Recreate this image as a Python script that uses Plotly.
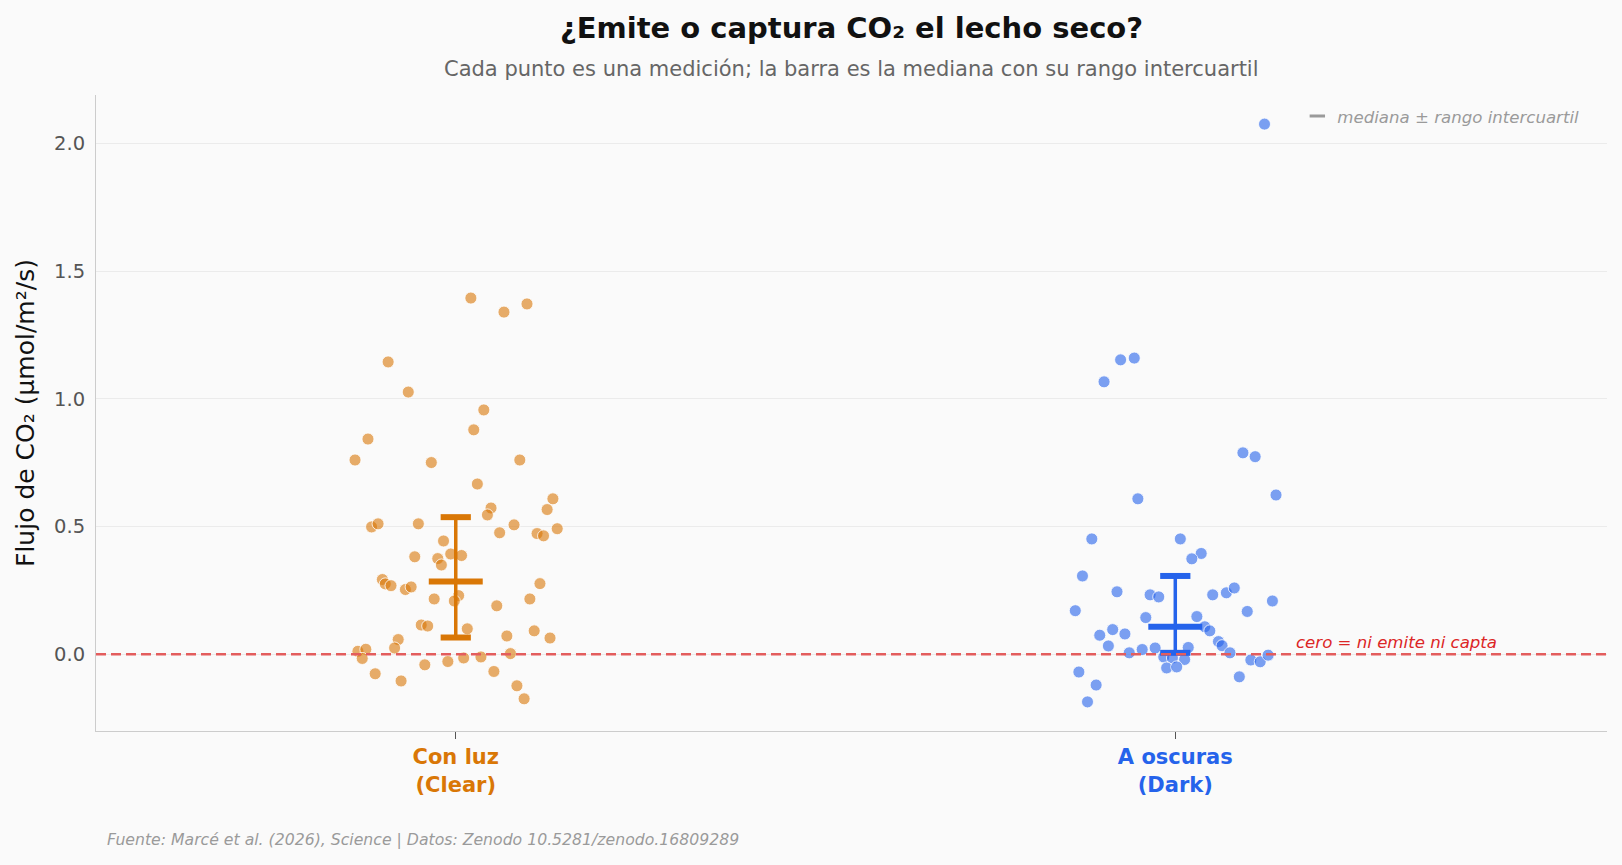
import numpy as np
import plotly.graph_objects as go

# ---------------- data ----------------
categories = ["Con luz<br>(Clear)", "A oscuras<br>(Dark)"]
cat_colors = ["#d97706", "#2563eb"]

clear_values = [1.395, 1.340, 1.372, 1.145, 1.027, 0.957, 0.879, 0.843, 0.761, 0.751,
                0.761, 0.667, 0.609, 0.567, 0.573, 0.546, 0.499, 0.511, 0.511, 0.507,
                0.476, 0.473, 0.464, 0.492, 0.444, 0.382, 0.375, 0.350, 0.393, 0.387,
                0.293, 0.276, 0.269, 0.254, 0.264, 0.277, 0.217, 0.230, 0.209, 0.190,
                0.217, 0.115, 0.111, 0.100, 0.072, 0.092, 0.064, 0.058, 0.025, 0.012,
                0.020, -0.016, 0.003, -0.076, -0.104, -0.041, -0.028, -0.014, -0.010,
                -0.067, -0.123, -0.174]
clear_jitter = [0.021, 0.067, 0.099, -0.094, -0.066, 0.039, 0.025, -0.122, -0.140, -0.034,
                0.089, 0.030, 0.135, 0.127, 0.049, 0.044, -0.117, -0.108, -0.052, 0.081,
                0.061, 0.113, 0.122, 0.141, -0.017, -0.057, -0.025, -0.020, -0.007, 0.008,
                -0.102, -0.098, -0.090, -0.070, -0.062, 0.117, -0.030, 0.004, -0.002, 0.057,
                0.103, -0.048, -0.039, 0.016, 0.071, 0.109, 0.131, -0.080, -0.085, -0.136,
                -0.125, -0.130, 0.076, -0.112, -0.076, -0.043, -0.011, 0.011, 0.035,
                0.053, 0.085, 0.095]

dark_values = [1.153, 1.160, 1.067, 0.789, 0.774, 0.624, 0.609, 0.452, 0.452, 0.395,
               0.374, 0.307, 0.245, 0.233, 0.225, 0.233, 0.241, 0.260, 0.209, 0.171,
               0.168, 0.144, 0.148, 0.075, 0.097, 0.080, 0.033, 0.006, 0.019, 0.025,
               0.108, 0.092, 0.050, 0.034, 0.006, 0.027, -0.010, -0.014, -0.020, -0.053,
               -0.049, -0.022, -0.029, -0.003, -0.069, -0.120, -0.186, -0.088, 2.076]
dark_jitter = [-0.076, -0.057, -0.099, 0.094, 0.111, 0.140, -0.052, -0.116, 0.007, 0.036,
               0.023, -0.129, -0.081, -0.035, -0.023, 0.052, 0.071, 0.082, 0.135, -0.139,
               0.100, -0.041, 0.030, -0.105, -0.087, -0.070, -0.093, -0.064, -0.046, -0.028,
               0.041, 0.048, 0.060, 0.065, 0.076, 0.018, -0.016, -0.004, 0.013, -0.012,
               0.002, 0.105, 0.118, 0.129, -0.134, -0.110, -0.122, 0.089, 0.124]

y_ticks = [0.0, 0.5, 1.0, 1.5, 2.0]

FONT = "DejaVu Sans"
BG = "#fafafa"

groups = [(clear_values, clear_jitter), (dark_values, dark_jitter)]
point_colors = ["rgba(217,119,6,0.6)", "rgba(37,99,235,0.6)"]

fig = go.Figure()

# points
for i, (vals, jit) in enumerate(groups):
    xs = [i + j for j in jit]
    fig.add_trace(go.Scatter(
        x=xs, y=vals, mode="markers", showlegend=False, hoverinfo="y",
        marker=dict(size=12, color=point_colors[i],
                    line=dict(width=1, color="rgba(255,255,255,0.8)")),
    ))

# median +- IQR
cap_w = 0.021
med_w = 0.0375
for i, (vals, _) in enumerate(groups):
    q1, med, q3 = np.percentile(vals, [25, 50, 75])
    col = cat_colors[i]
    fig.add_trace(go.Scatter(x=[i, i], y=[q1, q3], mode="lines", showlegend=False,
                             line=dict(color=col, width=3.5), hoverinfo="skip"))
    fig.add_trace(go.Scatter(x=[i - cap_w, i + cap_w, None, i - cap_w, i + cap_w],
                             y=[q1, q1, None, q3, q3], mode="lines", showlegend=False,
                             line=dict(color=col, width=6), hoverinfo="skip"))
    fig.add_trace(go.Scatter(x=[i - med_w, i + med_w], y=[med, med], mode="lines",
                             showlegend=False, line=dict(color=col, width=6),
                             hoverinfo="skip"))

# legend entry
fig.add_trace(go.Scatter(
    x=[None], y=[None], mode="markers", name="mediana ± rango intercuartil",
    marker=dict(symbol="line-ew", size=11, color="#9a9a9a",
                line=dict(width=3, color="#9a9a9a")),
))

# zero line
fig.add_shape(type="line", xref="paper", x0=0, x1=1, yref="y", y0=0, y1=0,
              line=dict(color="#e35d5d", width=2.5, dash="10px,5px"),
              layer="above")
fig.add_annotation(x=1.45, y=0, xref="x", yref="y", xanchor="right", yanchor="bottom",
                   text="<i>cero = ni emite ni capta</i>", showarrow=False,
                   font=dict(family=FONT, size=16.6, color="#dc2626"))

# subtitle & footer
fig.add_annotation(x=0.5, y=1.041, xref="paper", yref="paper", xanchor="center",
                   yanchor="middle", showarrow=False,
                   text="Cada punto es una medición; la barra es la mediana con su rango intercuartil",
                   font=dict(family=FONT, size=21, color="#666666"))
fig.add_annotation(x=0.006, y=-0.171, xref="paper", yref="paper", xanchor="left",
                   yanchor="middle", showarrow=False,
                   text="<i>Fuente: Marcé et al. (2026), Science | Datos: Zenodo 10.5281/zenodo.16809289</i>",
                   font=dict(family=FONT, size=15.7, color="#9a9a9a"))

ticktext = [f'<span style="color:{c}"><b>{t}</b></span>' for t, c in zip(categories, cat_colors)]

fig.update_layout(
    width=1622, height=865,
    paper_bgcolor=BG, plot_bgcolor=BG,
    margin=dict(l=96, r=15, t=95, b=134),
    title=dict(text="<b>¿Emite o captura CO₂ el lecho seco?</b>", x=0.5, xref="paper",
               xanchor="center", y=1 - 28 / 865, yref="container", yanchor="middle",
               font=dict(family=FONT, size=29, color="#111111")),
    font=dict(family=FONT, color="#444444"),
    showlegend=True,
    legend=dict(x=0.985, xanchor="right", y=0.994, yanchor="top", bgcolor="rgba(0,0,0,0)",
                font=dict(family=FONT, size=16.6, color="#9a9a9a", style="italic"),
                itemwidth=30),
    xaxis=dict(range=[-0.5, 1.6], tickvals=[0, 1], ticktext=ticktext,
               tickfont=dict(family=FONT, size=21), showgrid=False, zeroline=False,
               showline=True, linecolor="#cccccc", linewidth=1,
               ticks="outside", ticklen=7, tickcolor="#555555", tickwidth=1),
    yaxis=dict(range=[-0.3, 2.19], tickvals=y_ticks, tickformat=".1f",
               tickfont=dict(family=FONT, size=19.5, color="#555555"),
               showgrid=True, gridcolor="#ebebeb", gridwidth=1, zeroline=False,
               showline=True, linecolor="#cccccc", linewidth=1, ticks="",
               ticklabelstandoff=6,
               title=dict(text="Flujo de CO₂ (μmol/m²/s)", standoff=12,
                          font=dict(family=FONT, size=25, color="#111111"))),
)

fig.write_html("out.html")
